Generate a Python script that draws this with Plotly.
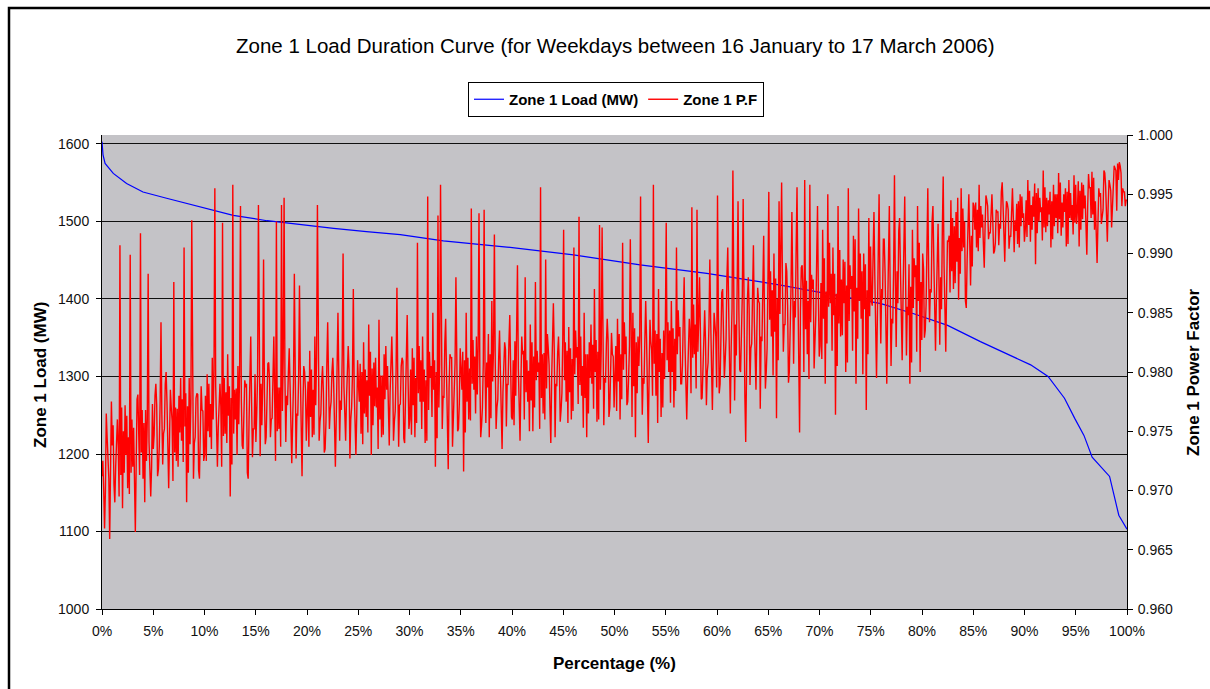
import plotly.graph_objects as go

# ---------------- data ----------------
chart_title = "Zone 1 Load Duration Curve (for Weekdays between 16 January to 17 March 2006)"

# Zone 1 load duration curve (MW)
load_pct = [0, 0.1, 0.3, 1.1, 2.4, 4.0, 6.3, 9.6, 12.8, 16.1, 19.3, 22.6, 25.8, 29.1,
            33.3, 39.5, 46.0, 52.5, 59.0, 66.2, 72.7, 76.0, 79.2, 82.5, 85.7, 89.0,
            90.6, 92.3, 93.9, 94.9, 95.8, 96.6, 98.3, 99.2, 100]
load_mw = [1603, 1586, 1575, 1562, 1549, 1538, 1530, 1519, 1508, 1501, 1496, 1491, 1487, 1483,
           1475, 1467, 1457, 1444, 1433, 1418, 1402, 1394, 1381, 1366, 1345, 1325,
           1315, 1300, 1272, 1246, 1224, 1196, 1171, 1121, 1103]

# Zone 1 power factor (ordered by load rank).
# pf_swing: spikes / envelope samples; pf_band, pf_band2: samples inside the dense core band.
pf_swing = [
    0.9712, 0.9668, 0.9745, 0.9659, 0.9738, 0.9690, 0.9760, 0.9907, 0.9685, 0.9772,
    0.9702, 0.9899, 0.9720, 0.9665, 0.9781, 0.9917, 0.9710, 0.9768, 0.9883, 0.9695,
    0.9735, 0.9790, 0.9718, 0.9842, 0.9748, 0.9800, 0.9702, 0.9770, 0.9876, 0.9725,
    0.9780, 0.9742, 0.9905, 0.9690, 0.9795, 0.9928, 0.9740, 0.9782, 0.9710, 0.9768,
    0.9730, 0.9798, 0.9745, 0.9812, 0.9955, 0.9720, 0.9790, 0.9926, 0.9748, 0.9815,
    0.9695, 0.9958, 0.9760, 0.9805, 0.9940, 0.9735, 0.9787, 0.9710, 0.9830, 0.9752,
    0.9741, 0.9941, 0.9790, 0.9895, 0.9745, 0.9808, 0.9760, 0.9830, 0.9927, 0.9752,
    0.9941, 0.9947, 0.9780, 0.9820, 0.9723, 0.9883, 0.9765, 0.9873, 0.9712, 0.9800,
    0.9770, 0.9818, 0.9745, 0.9830, 0.9941, 0.9758, 0.9805, 0.9735, 0.9842, 0.9768,
    0.9812, 0.9720, 0.9850, 0.9776, 0.9900, 0.9742, 0.9822, 0.9760, 0.9870, 0.9730,
    0.9790, 0.9748, 0.9825, 0.9762, 0.9840, 0.9730, 0.9808, 0.9770, 0.9844, 0.9745,
    0.9815, 0.9785, 0.9738, 0.9830, 0.9758, 0.9871, 0.9772, 0.9812, 0.9740, 0.9848,
    0.9760, 0.9820, 0.9745, 0.9909, 0.9775, 0.9830, 0.9740, 0.9948, 0.9795, 0.9850,
    0.9720, 0.9932, 0.9958, 0.9780, 0.9845, 0.9718, 0.9812, 0.9760, 0.9880, 0.9752,
    0.9800, 0.9716, 0.9850, 0.9760, 0.9938, 0.9785, 0.9830, 0.9934, 0.9755, 0.9937,
    0.9808, 0.9745, 0.9860, 0.9916, 0.9770, 0.9835, 0.9735, 0.9825, 0.9790, 0.9848,
    0.9760, 0.9826, 0.9890, 0.9742, 0.9815, 0.9880, 0.9775, 0.9840, 0.9750, 0.9876,
    0.9800, 0.9956, 0.9765, 0.9895, 0.9820, 0.9740, 0.9858, 0.9790, 0.9830, 0.9768,
    0.9920, 0.9775, 0.9838, 0.9760, 0.9905, 0.9812, 0.9931, 0.9780, 0.9850, 0.9745,
    0.9825, 0.9790, 0.9870, 0.9758, 0.9924, 0.9922, 0.9795, 0.9845, 0.9770, 0.9815,
    0.9790, 0.9845, 0.9760, 0.9909, 0.9815, 0.9775, 0.9912, 0.9850, 0.9745, 0.9830,
    0.9948, 0.9795, 0.9860, 0.9740, 0.9826, 0.9958, 0.9780, 0.9870, 0.9762, 0.9835,
    0.9926, 0.9800, 0.9860, 0.9770, 0.9905, 0.9830, 0.9790, 0.9880, 0.9760, 0.9845,
    0.9939, 0.9815, 0.9937, 0.9880, 0.9778, 0.9852, 0.9800, 0.9895, 0.9768, 0.9840,
    0.9949, 0.9790, 0.9870, 0.9810, 0.9905, 0.9765, 0.9970, 0.9840, 0.9944, 0.9800,
    0.9946, 0.9741, 0.9880, 0.9820, 0.9907, 0.9785, 0.9860, 0.9830, 0.9915, 0.9800,
    0.9952, 0.9830, 0.9900, 0.9761, 0.9944, 0.9960, 0.9840, 0.9885, 0.9800, 0.9935,
    0.9860, 0.9956, 0.9749, 0.9890, 0.9962, 0.9815, 0.9958, 0.9870, 0.9820, 0.9940,
    0.9822, 0.9920, 0.9790, 0.9950, 0.9858, 0.9905, 0.9764, 0.9940, 0.9830, 0.9895,
    0.9800, 0.9955, 0.9870, 0.9915, 0.9790, 0.9938, 0.9845, 0.9900, 0.9768, 0.9930,
    0.9860, 0.9935, 0.9795, 0.9950, 0.9870, 0.9912, 0.9790, 0.9940, 0.9845, 0.9966,
    0.9885, 0.9930, 0.9810, 0.9948, 0.9855, 0.9790, 0.9920, 0.9880, 0.9940, 0.9800,
    0.9900, 0.9835, 0.9955, 0.9870, 0.9940, 0.9818, 0.9925, 0.9880, 0.9965, 0.9817,
    0.9910, 0.9945, 0.9870, 0.9935, 0.9861, 0.9955, 0.9905, 0.9854, 0.9950, 0.9915,
    0.9940, 0.9905, 0.9958, 0.9922, 0.9888, 0.9945, 0.9918, 0.9950, 0.9902, 0.9935,
    0.9925, 0.9960, 0.9893, 0.9942, 0.9915, 0.9955, 0.9928, 0.9908, 0.9950, 0.9930,
    0.9920, 0.9962, 0.9910, 0.9948, 0.9891, 0.9955, 0.9935, 0.9970, 0.9918, 0.9945,
    0.9905, 0.9958, 0.9930, 0.9968, 0.9915, 0.9950, 0.9906, 0.9962, 0.9928, 0.9966,
    0.9925, 0.9906, 0.9960, 0.9938, 0.9899, 0.9955, 0.9969, 0.9920, 0.9892, 0.9948,
    0.9935, 0.9968, 0.9910, 0.9958, 0.9945, 0.9972, 0.9976, 0.9974, 0.9955, 0.9940,
]
pf_band = [
    0.9725, 0.9700, 0.9722, 0.9710, 0.9755, 0.9720, 0.9738, 0.9713, 0.9750, 0.9730,
    0.9745, 0.9715, 0.9753, 0.9723, 0.9743, 0.9732, 0.9757, 0.9725, 0.9741, 0.9719,
    0.9747, 0.9772, 0.9737, 0.9765, 0.9752, 0.9775, 0.9743, 0.9759, 0.9732, 0.9769,
    0.9749, 0.9777, 0.9754, 0.9771, 0.9739, 0.9763, 0.9745, 0.9781, 0.9751, 0.9767,
    0.9780, 0.9750, 0.9773, 0.9760, 0.9788, 0.9753, 0.9771, 0.9746, 0.9783, 0.9763,
    0.9778, 0.9748, 0.9786, 0.9756, 0.9776, 0.9765, 0.9790, 0.9758, 0.9774, 0.9752,
    0.9765, 0.9790, 0.9755, 0.9783, 0.9770, 0.9793, 0.9761, 0.9777, 0.9750, 0.9787,
    0.9767, 0.9795, 0.9772, 0.9789, 0.9757, 0.9781, 0.9763, 0.9799, 0.9769, 0.9785,
    0.9792, 0.9762, 0.9785, 0.9772, 0.9800, 0.9765, 0.9783, 0.9758, 0.9795, 0.9775,
    0.9790, 0.9760, 0.9798, 0.9768, 0.9788, 0.9777, 0.9802, 0.9770, 0.9786, 0.9764,
    0.9775, 0.9800, 0.9765, 0.9793, 0.9780, 0.9803, 0.9771, 0.9787, 0.9760, 0.9797,
    0.9777, 0.9805, 0.9782, 0.9799, 0.9767, 0.9791, 0.9773, 0.9809, 0.9779, 0.9795,
    0.9802, 0.9772, 0.9795, 0.9782, 0.9810, 0.9775, 0.9793, 0.9768, 0.9805, 0.9785,
    0.9800, 0.9770, 0.9808, 0.9778, 0.9798, 0.9787, 0.9812, 0.9780, 0.9796, 0.9774,
    0.9785, 0.9810, 0.9775, 0.9803, 0.9790, 0.9813, 0.9781, 0.9797, 0.9770, 0.9807,
    0.9787, 0.9815, 0.9792, 0.9809, 0.9777, 0.9801, 0.9783, 0.9819, 0.9789, 0.9805,
    0.9810, 0.9780, 0.9803, 0.9790, 0.9818, 0.9783, 0.9801, 0.9776, 0.9813, 0.9793,
    0.9808, 0.9778, 0.9816, 0.9786, 0.9806, 0.9795, 0.9820, 0.9788, 0.9804, 0.9782,
    0.9793, 0.9818, 0.9783, 0.9811, 0.9798, 0.9821, 0.9789, 0.9805, 0.9778, 0.9815,
    0.9795, 0.9823, 0.9800, 0.9817, 0.9785, 0.9809, 0.9791, 0.9827, 0.9797, 0.9813,
    0.9822, 0.9792, 0.9815, 0.9802, 0.9830, 0.9795, 0.9813, 0.9788, 0.9825, 0.9805,
    0.9820, 0.9790, 0.9828, 0.9798, 0.9818, 0.9807, 0.9832, 0.9800, 0.9816, 0.9794,
    0.9810, 0.9835, 0.9800, 0.9828, 0.9815, 0.9838, 0.9806, 0.9822, 0.9795, 0.9832,
    0.9812, 0.9840, 0.9817, 0.9834, 0.9802, 0.9826, 0.9808, 0.9844, 0.9814, 0.9830,
    0.9848, 0.9818, 0.9841, 0.9828, 0.9856, 0.9821, 0.9839, 0.9814, 0.9851, 0.9831,
    0.9846, 0.9816, 0.9854, 0.9824, 0.9844, 0.9833, 0.9858, 0.9826, 0.9842, 0.9820,
    0.9844, 0.9869, 0.9834, 0.9862, 0.9849, 0.9872, 0.9840, 0.9856, 0.9829, 0.9866,
    0.9846, 0.9874, 0.9851, 0.9868, 0.9836, 0.9860, 0.9842, 0.9878, 0.9848, 0.9864,
    0.9875, 0.9845, 0.9868, 0.9855, 0.9883, 0.9848, 0.9866, 0.9841, 0.9878, 0.9858,
    0.9873, 0.9843, 0.9881, 0.9851, 0.9871, 0.9860, 0.9885, 0.9853, 0.9869, 0.9847,
    0.9856, 0.9881, 0.9846, 0.9874, 0.9861, 0.9884, 0.9852, 0.9868, 0.9841, 0.9878,
    0.9858, 0.9886, 0.9863, 0.9880, 0.9848, 0.9872, 0.9854, 0.9890, 0.9860, 0.9876,
    0.9887, 0.9857, 0.9880, 0.9867, 0.9895, 0.9860, 0.9878, 0.9853, 0.9890, 0.9870,
    0.9915, 0.9885, 0.9923, 0.9893, 0.9913, 0.9902, 0.9927, 0.9895, 0.9911, 0.9889,
    0.9920, 0.9937, 0.9913, 0.9933, 0.9923, 0.9940, 0.9917, 0.9928, 0.9909, 0.9935,
    0.9921, 0.9941, 0.9925, 0.9937, 0.9914, 0.9931, 0.9919, 0.9944, 0.9923, 0.9934,
    0.9945, 0.9924, 0.9941, 0.9931, 0.9951, 0.9927, 0.9939, 0.9922, 0.9947, 0.9933,
    0.9944, 0.9923, 0.9950, 0.9929, 0.9943, 0.9935, 0.9952, 0.9930, 0.9941, 0.9926,
    0.9936, 0.9953, 0.9929, 0.9949, 0.9939, 0.9956, 0.9933, 0.9944, 0.9925, 0.9951,
    0.9937, 0.9957, 0.9941, 0.9953, 0.9960, 0.9970, 0.9962, 0.9968, 0.9952, 0.9945,
]
pf_band2 = [
    0.9700, 0.9765, 0.9710, 0.9775, 0.9705, 0.9755, 0.9695, 0.9770, 0.9715, 0.9763,
    0.9697, 0.9760, 0.9705, 0.9777, 0.9713, 0.9768, 0.9690, 0.9761, 0.9703, 0.9773,
    0.9780, 0.9712, 0.9775, 0.9722, 0.9790, 0.9728, 0.9785, 0.9708, 0.9770, 0.9720,
    0.9795, 0.9724, 0.9782, 0.9715, 0.9774, 0.9710, 0.9778, 0.9717, 0.9788, 0.9725,
    0.9725, 0.9790, 0.9735, 0.9800, 0.9730, 0.9780, 0.9720, 0.9795, 0.9740, 0.9788,
    0.9722, 0.9785, 0.9730, 0.9802, 0.9738, 0.9793, 0.9715, 0.9786, 0.9728, 0.9798,
    0.9797, 0.9729, 0.9792, 0.9739, 0.9807, 0.9745, 0.9802, 0.9725, 0.9787, 0.9737,
    0.9812, 0.9741, 0.9799, 0.9732, 0.9791, 0.9727, 0.9795, 0.9734, 0.9805, 0.9742,
    0.9737, 0.9802, 0.9747, 0.9812, 0.9742, 0.9792, 0.9732, 0.9807, 0.9752, 0.9800,
    0.9734, 0.9797, 0.9742, 0.9814, 0.9750, 0.9805, 0.9727, 0.9798, 0.9740, 0.9810,
    0.9807, 0.9739, 0.9802, 0.9749, 0.9817, 0.9755, 0.9812, 0.9735, 0.9797, 0.9747,
    0.9822, 0.9751, 0.9809, 0.9742, 0.9801, 0.9737, 0.9805, 0.9744, 0.9815, 0.9752,
    0.9747, 0.9812, 0.9757, 0.9822, 0.9752, 0.9802, 0.9742, 0.9817, 0.9762, 0.9810,
    0.9744, 0.9807, 0.9752, 0.9824, 0.9760, 0.9815, 0.9737, 0.9808, 0.9750, 0.9820,
    0.9817, 0.9749, 0.9812, 0.9759, 0.9827, 0.9765, 0.9822, 0.9745, 0.9807, 0.9757,
    0.9832, 0.9761, 0.9819, 0.9752, 0.9811, 0.9747, 0.9815, 0.9754, 0.9825, 0.9762,
    0.9755, 0.9820, 0.9765, 0.9830, 0.9760, 0.9810, 0.9750, 0.9825, 0.9770, 0.9818,
    0.9752, 0.9815, 0.9760, 0.9832, 0.9768, 0.9823, 0.9745, 0.9816, 0.9758, 0.9828,
    0.9825, 0.9757, 0.9820, 0.9767, 0.9835, 0.9773, 0.9830, 0.9753, 0.9815, 0.9765,
    0.9840, 0.9769, 0.9827, 0.9760, 0.9819, 0.9755, 0.9823, 0.9762, 0.9833, 0.9770,
    0.9767, 0.9832, 0.9777, 0.9842, 0.9772, 0.9822, 0.9762, 0.9837, 0.9782, 0.9830,
    0.9764, 0.9827, 0.9772, 0.9844, 0.9780, 0.9835, 0.9757, 0.9828, 0.9770, 0.9840,
    0.9842, 0.9774, 0.9837, 0.9784, 0.9852, 0.9790, 0.9847, 0.9770, 0.9832, 0.9782,
    0.9857, 0.9786, 0.9844, 0.9777, 0.9836, 0.9772, 0.9840, 0.9779, 0.9850, 0.9787,
    0.9782, 0.9867, 0.9795, 0.9880, 0.9789, 0.9854, 0.9776, 0.9874, 0.9802, 0.9864,
    0.9779, 0.9861, 0.9789, 0.9883, 0.9799, 0.9871, 0.9769, 0.9862, 0.9786, 0.9877,
    0.9885, 0.9797, 0.9879, 0.9810, 0.9898, 0.9817, 0.9892, 0.9791, 0.9872, 0.9807,
    0.9905, 0.9812, 0.9888, 0.9800, 0.9877, 0.9794, 0.9882, 0.9803, 0.9895, 0.9813,
    0.9811, 0.9896, 0.9824, 0.9909, 0.9818, 0.9883, 0.9805, 0.9903, 0.9831, 0.9893,
    0.9808, 0.9890, 0.9818, 0.9912, 0.9828, 0.9900, 0.9798, 0.9891, 0.9815, 0.9906,
    0.9899, 0.9811, 0.9893, 0.9824, 0.9912, 0.9831, 0.9906, 0.9805, 0.9886, 0.9821,
    0.9919, 0.9826, 0.9902, 0.9814, 0.9891, 0.9808, 0.9896, 0.9817, 0.9909, 0.9827,
    0.9829, 0.9914, 0.9842, 0.9927, 0.9836, 0.9901, 0.9823, 0.9921, 0.9849, 0.9911,
    0.9867, 0.9930, 0.9875, 0.9947, 0.9883, 0.9938, 0.9860, 0.9931, 0.9873, 0.9943,
    0.9943, 0.9902, 0.9940, 0.9908, 0.9949, 0.9912, 0.9946, 0.9900, 0.9937, 0.9907,
    0.9952, 0.9909, 0.9944, 0.9904, 0.9939, 0.9901, 0.9942, 0.9905, 0.9948, 0.9910,
    0.9914, 0.9953, 0.9920, 0.9959, 0.9917, 0.9947, 0.9911, 0.9956, 0.9923, 0.9952,
    0.9912, 0.9950, 0.9917, 0.9960, 0.9922, 0.9955, 0.9908, 0.9951, 0.9916, 0.9958,
    0.9961, 0.9920, 0.9958, 0.9926, 0.9967, 0.9930, 0.9964, 0.9918, 0.9955, 0.9925,
    0.9970, 0.9927, 0.9962, 0.9922, 0.9974, 0.9936, 0.9977, 0.9940, 0.9952, 0.9945,
]
# full series in rank order: swing, band, band2 samples in turn
pf_values = [v for trio in zip(pf_swing, pf_band, pf_band2) for v in trio]
pf_pct = [i * 100.0 / (len(pf_values) - 1) for i in range(len(pf_values))]

x_tick_vals = [0, 5, 10, 15, 20, 25, 30, 35, 40, 45, 50, 55, 60, 65, 70, 75, 80, 85, 90, 95, 100]
x_tick_text = ["0%", "5%", "10%", "15%", "20%", "25%", "30%", "35%", "40%", "45%", "50%",
               "55%", "60%", "65%", "70%", "75%", "80%", "85%", "90%", "95%", "100%"]
left_tick_vals = [1000, 1100, 1200, 1300, 1400, 1500, 1600]
right_tick_vals = [0.960, 0.965, 0.970, 0.975, 0.980, 0.985, 0.990, 0.995, 1.000]

# ---------------- figure ----------------
FONT = "Arial, Liberation Sans, sans-serif"
fig = go.Figure()
fig.add_trace(go.Scatter(x=load_pct, y=load_mw, mode="lines", name="Zone 1 Load (MW)",
                         line=dict(color="#0000FF", width=1.2), yaxis="y"))
fig.add_trace(go.Scatter(x=pf_pct, y=pf_values, mode="lines", name="Zone 1 P.F",
                         line=dict(color="#FF0000", width=1.4), yaxis="y2"))

W, H = 1210, 689
L, R, T, B = 102, 83, 135, 80
pw, ph = W - L - R, H - T - B

def px(xp):
    return (xp - L) / pw

def py(yp):
    return (H - B - yp) / ph

axis_common = dict(showline=True, linecolor="black", linewidth=1, ticks="outside",
                   ticklen=5, tickcolor="black", tickfont=dict(family=FONT, size=14, color="#111"),
                   zeroline=False)

fig.update_layout(
    width=W, height=H,
    margin=dict(l=L, r=R, t=T, b=B),
    paper_bgcolor="white",
    plot_bgcolor="#C4C3C7",
    showlegend=True,
    legend=dict(orientation="h", x=px(616), xanchor="center", y=py(82), yanchor="top",
                bgcolor="white", bordercolor="black", borderwidth=1,
                font=dict(family=FONT, size=15, color="black", weight="bold"),
                itemwidth=30, tracegroupgap=0),
    xaxis=dict(range=[0, 100], tickvals=x_tick_vals, ticktext=x_tick_text, showgrid=False,
               ticklabelstandoff=4, **axis_common),
    yaxis=dict(range=[1000, 1611.6], tickvals=left_tick_vals, showgrid=True,
               gridcolor="#101010", gridwidth=1.2, ticklabelstandoff=4, **axis_common),
    yaxis2=dict(range=[0.960, 1.000], tickvals=right_tick_vals, tickformat=".3f",
                overlaying="y", side="right", showgrid=False, ticklabelstandoff=2, **axis_common),
    annotations=[
        dict(text=chart_title, xref="paper", yref="paper", x=px(615), y=py(45),
             xanchor="center", yanchor="middle", showarrow=False,
             font=dict(family=FONT, size=20.5, color="black")),
        dict(text="<b>Zone 1 Load (MW)</b>", xref="paper", yref="paper", x=px(40), y=py(375),
             xanchor="center", yanchor="middle", textangle=-90, showarrow=False,
             font=dict(family=FONT, size=17, color="black")),
        dict(text="<b>Zone 1 Power Factor</b>", xref="paper", yref="paper", x=px(1193), y=py(372),
             xanchor="center", yanchor="middle", textangle=-90, showarrow=False,
             font=dict(family=FONT, size=17, color="black")),
        dict(text="<b>Percentage (%)</b>", xref="paper", yref="paper", x=px(614), y=py(663),
             xanchor="center", yanchor="middle", showarrow=False,
             font=dict(family=FONT, size=17, color="black")),
    ],
    shapes=[
        dict(type="rect", xref="paper", yref="paper", x0=px(9), y0=py(760), x1=px(1290), y1=py(8),
             line=dict(color="black", width=2.5), fillcolor="rgba(0,0,0,0)", layer="below"),
    ],
)

fig.write_html("out.html",
               config={"displayModeBar": False},
               post_script="document.body.style.margin='0px';"
                           "document.body.style.overflow='hidden';")
